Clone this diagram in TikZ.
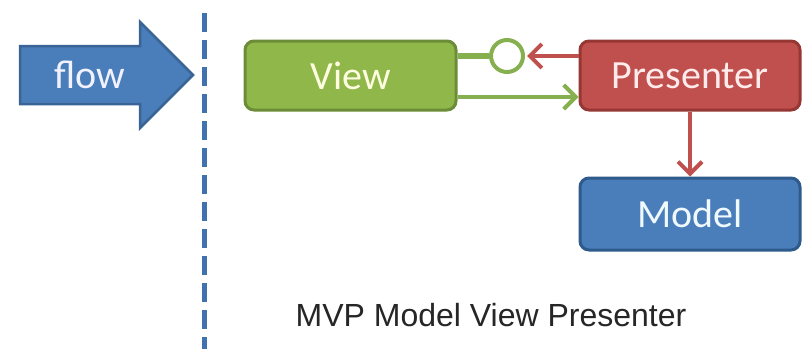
\documentclass[tikz,border=0pt]{standalone}
\usepackage{fontspec}
\setmainfont{Carlito}
\newfontfamily\capfont{Liberation Sans}
\usetikzlibrary{arrows.meta}
\definecolor{flowblue}{HTML}{4A7EBB}
\definecolor{flowedge}{HTML}{3A6496}
\definecolor{dashblue}{HTML}{3F72AF}
\definecolor{vgreen}{HTML}{8FB74A}
\definecolor{vgreenedge}{HTML}{6C8C38}
\definecolor{lgreen}{HTML}{86B04F}
\definecolor{pred}{HTML}{C0504D}
\definecolor{prededge}{HTML}{963734}
\definecolor{mblue}{HTML}{4A7EBB}
\definecolor{mblueedge}{HTML}{2F5A8C}
\tikzset{
  boxbase/.style={rectangle, rounded corners=9pt, line width=3pt, font=\fontsize{40}{44}\selectfont, inner sep=0pt},
  viewbox/.style={boxbase, fill=vgreen, draw=vgreenedge, text=yellow!12!white, minimum width=211pt, minimum height=69pt},
  presbox/.style={boxbase, fill=pred, draw=prededge, text=red!8!white, minimum width=220pt, minimum height=69pt},
  modelbox/.style={boxbase, fill=mblue, draw=mblueedge, text=cyan!6!white, minimum width=220pt, minimum height=72pt},
  greenline/.style={draw=lgreen, line width=4pt},
  redline/.style={draw=pred, line width=4pt},
  chevron/.style={-{Straight Barb[length=12pt,width=24pt,line width=4pt]}},
}
\begin{document}
\begin{tikzpicture}[x=1pt,y=-1pt]
\useasboundingbox (0,0) rectangle (802,349);
\fill[white] (0,0) rectangle (802,349);
% flow arrow
\filldraw[fill=flowblue, draw=flowedge, line width=2.5pt, line join=miter]
  (20,46) -- (140,46) -- (140,22) -- (193,75) -- (140,128) -- (140,104) -- (20,104) -- cycle;
\node[font=\fontsize{40}{44}\selectfont, text=blue!5!white, inner sep=0pt] (flow) at (90,75) {flow};
% dashed separator
\coordinate (dtop) at (204.5,13);
\coordinate (dbot) at (204.5,349);
\draw[dashblue, line width=5pt, dash pattern=on 19pt off 8pt] (dtop) -- (dbot);
% boxes
\node[viewbox] (view) at (350.5,75.5) {View};
\node[presbox] (pres) at (690,75.5) {Presenter};
\node[modelbox] (model) at (690,214) {Model};
% lollipop
\node[circle, draw=lgreen, fill=white, line width=4pt, minimum size=32pt, inner sep=0pt] (circ) at (507,56) {};
\draw[greenline, line width=6pt] (view.east |- circ) -- (circ.west);
\draw[redline, chevron] (pres.west |- circ) -- ([xshift=2pt]circ.east);
% view -> presenter
\coordinate (vlow) at ([yshift=-21.5pt]view.east);
\draw[greenline, chevron] (vlow) -- (pres.west |- vlow);
% presenter -> model
\draw[redline, chevron] (pres.south) -- (model.north);
% caption
\node[font=\capfont\fontsize{32}{36}\selectfont, text=black!85, inner sep=0pt, anchor=base] (cap) at (491,326) {MVP Model View Presenter};
\end{tikzpicture}
\end{document}
